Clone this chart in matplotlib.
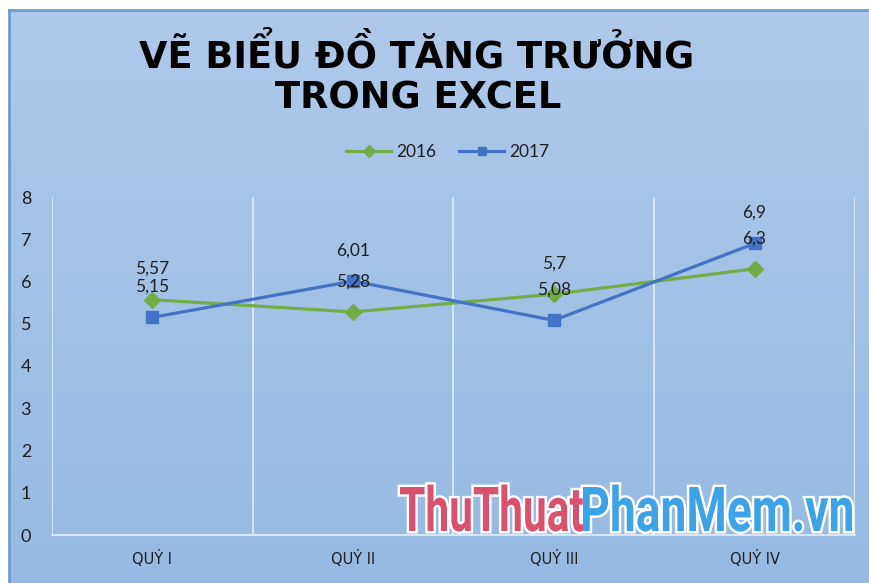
import numpy as np
import matplotlib
matplotlib.use("Agg")
import matplotlib.pyplot as plt
from matplotlib.textpath import TextPath
from matplotlib.patches import PathPatch
from matplotlib.font_manager import FontProperties
from matplotlib.transforms import Affine2D

# Data
quarters = ["QUÝ I", "QUÝ II", "QUÝ III", "QUÝ IV"]
y2016 = [5.57, 5.28, 5.7, 6.3]
y2017 = [5.15, 6.01, 5.08, 6.9]
yticks = [0, 1, 2, 3, 4, 5, 6, 7, 8]

W, H = 870, 583
fig = plt.figure(figsize=(W / 100, H / 100), dpi=100)
fig.patch.set_facecolor("white")

# chart area background (gradient, border top/left)
bg = fig.add_axes([9 / W, 0, 1 - 9 / W, 1 - 10 / H])
top = np.array([174, 201, 234]) / 255
bot = np.array([150, 186, 226]) / 255
t = np.linspace(0, 1, 256)[:, None]
grad = top * (1 - t[..., None]) + bot * t[..., None]
grad = np.repeat(grad, 4, axis=1)
bg.imshow(grad, aspect="auto", extent=[0, 1, 0, 1], origin="upper")
bg.set_xlim(0, 1)
bg.set_ylim(0, 1)
bg.set_xticks([])
bg.set_yticks([])
for s in ["right", "bottom"]:
    bg.spines[s].set_visible(False)
for s in ["top", "left"]:
    bg.spines[s].set_color("#6f9bd1")
    bg.spines[s].set_linewidth(2)

# main plot
ax = fig.add_axes([52 / W, (H - 535) / H, (855 - 52) / W, (535 - 197) / H])
ax.set_facecolor("none")
ax.set_xlim(-0.5, 3.5)
ax.set_ylim(0, 8)
x = np.arange(len(quarters))

for b in np.arange(-0.5, 4, 1):
    ax.axvline(b, color="#e6eef8", lw=1.2, zorder=1)

ax.plot(x, y2016, color="#70ad47", lw=2.3, marker="D", ms=8,
        label="2016", zorder=3)
ax.plot(x, y2017, color="#4472c4", lw=2.3, marker="s", ms=9,
        label="2017", zorder=3)

lab_font = dict(fontsize=12.5, color="#1f1f1f", family=["Lato", "DejaVu Sans"])
for xi, v in zip(x, y2016):
    ax.annotate(f"{v:g}".replace(".", ","), (xi, v), xytext=(0, 22),
                textcoords="offset points", ha="center", va="center",
                zorder=4, **lab_font)
for xi, v in zip(x, y2017):
    ax.annotate(f"{v:g}".replace(".", ","), (xi, v), xytext=(0, 22),
                textcoords="offset points", ha="center", va="center",
                zorder=4, **lab_font)

for s in ["top", "right", "left"]:
    ax.spines[s].set_visible(False)
ax.spines["bottom"].set_color("#e6eef8")
ax.spines["bottom"].set_linewidth(1.2)
ax.set_yticks(yticks)
ax.set_yticklabels([str(v) for v in yticks], fontsize=13,
                   color="#1f1f1f", family=["Lato", "DejaVu Sans"])
ax.set_xticks(x)
ax.set_xticklabels(quarters, fontsize=10.5, color="#1f1f1f",
                   family=["DejaVu Sans"])
ax.tick_params(axis="both", length=0)
ax.tick_params(axis="y", pad=15)
ax.tick_params(axis="x", pad=11)

# legend
leg = fig.legend(loc="center", bbox_to_anchor=(448 / W, 1 - 152 / H),
                 ncol=2, frameon=False, handlelength=2.6,
                 columnspacing=1.3, handletextpad=0.3,
                 prop={"family": ["Lato", "DejaVu Sans"], "size": 12.5})
for h in leg.legend_handles:
    h.set_markersize(6)
for txt in leg.get_texts():
    txt.set_color("#1f1f1f")

# title
fig.text(417 / W, 1 - 55 / H, "VẼ BIỂU ĐỒ TĂNG TRƯỞNG", ha="center",
         va="center", fontsize=26.5, fontweight="bold", color="black",
         family=["DejaVu Sans"])
fig.text(418 / W, 1 - 98 / H, "TRONG EXCEL", ha="center",
         va="center", fontsize=26.5, fontweight="bold", color="black",
         family=["DejaVu Sans"])

# watermark (condensed bold text drawn as paths, pixel coords from bottom)
ov = fig.add_axes([0, 0, 1, 1])
ov.set_xlim(0, W)
ov.set_ylim(0, H)
ov.axis("off")
fp = FontProperties(family="Roboto", weight="bold")
base_y = H - 531
cap_h = 44
parts = [("ThuThuat", "#d85270", 400, 583), ("PhanMem.vn", "#3ea3e6", 583, 852)]
ref_cap = TextPath((0, 0), "T", size=100, prop=fp).get_extents().height
for s, col, x0, x1 in parts:
    tp = TextPath((0, 0), s, size=100, prop=fp)
    ext = tp.get_extents()
    sy = cap_h / ref_cap
    sx = (x1 - x0) / ext.width
    tr = Affine2D().translate(-ext.x0, 0).scale(sx, sy).translate(x0, base_y)
    path = tr.transform_path(tp)
    ov.add_patch(PathPatch(path, facecolor="white", edgecolor="white",
                           lw=3.5, zorder=5))
    ov.add_patch(PathPatch(path, facecolor=col, edgecolor="none", zorder=6))

fig.savefig("out.png", dpi=100, facecolor=fig.get_facecolor())
